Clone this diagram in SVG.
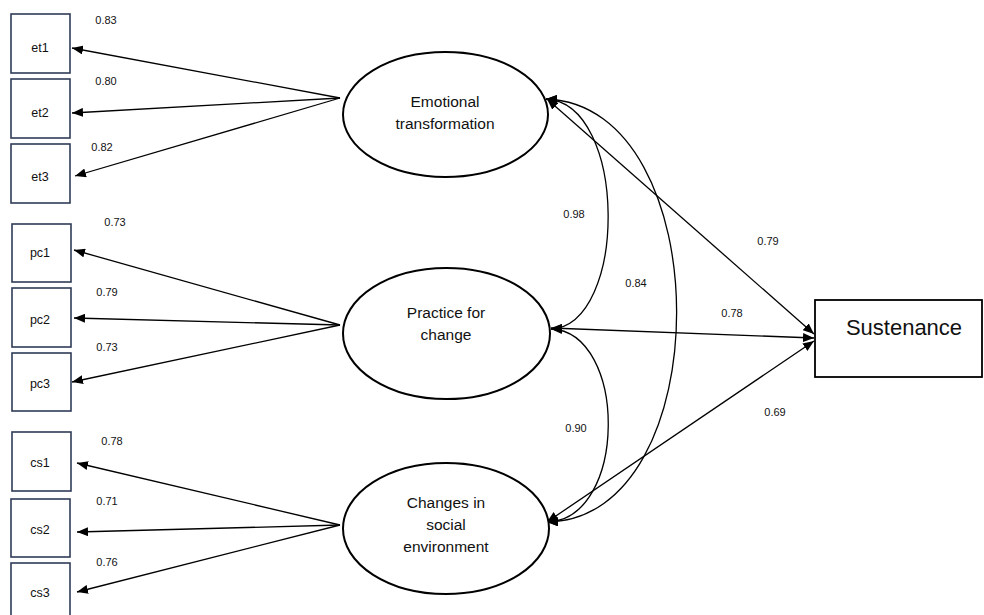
<svg xmlns="http://www.w3.org/2000/svg" width="984" height="615" viewBox="0 0 984 615">
<defs>
<marker id="ah" viewBox="0 0 11 9" refX="11" refY="4.5" markerWidth="11" markerHeight="9" markerUnits="userSpaceOnUse" orient="auto-start-reverse">
<path d="M0,0 L11,4.5 L0,9 z" fill="#000"/>
</marker>
</defs>
<style>
.box{fill:#fff;stroke:#2f3b57;stroke-width:1.6}
.lat{fill:#fff;stroke:#000;stroke-width:2}
.out{fill:#fff;stroke:#000;stroke-width:1.8}
.t{font-family:"Liberation Sans",Arial,sans-serif;fill:#111;text-anchor:middle}
.bl{font-size:12.5px}
.ll{font-size:15.5px}
.nl{font-size:11px}
.big{font-size:22px}
.c{fill:none;stroke:#000;stroke-width:1.3}
.one{marker-end:url(#ah)}
.two{marker-start:url(#ah);marker-end:url(#ah)}
</style>
<rect width="984" height="615" fill="#fff"/>
<g id="connectors">
<line class="c one" x1="340" y1="98" x2="72" y2="48"/>
<line class="c one" x1="340" y1="98" x2="72" y2="113"/>
<line class="c one" x1="340" y1="98" x2="75" y2="176"/>
<line class="c one" x1="340" y1="325" x2="74" y2="250"/>
<line class="c one" x1="340" y1="325" x2="74" y2="318"/>
<line class="c one" x1="340" y1="325" x2="72" y2="382"/>
<line class="c one" x1="340" y1="525" x2="77" y2="463"/>
<line class="c one" x1="340" y1="525" x2="77" y2="532"/>
<line class="c one" x1="340" y1="525" x2="77" y2="592"/>
<line class="c two" x1="547" y1="99" x2="814" y2="334"/>
<line class="c two" x1="551" y1="328" x2="814" y2="338"/>
<line class="c two" x1="547" y1="522" x2="814" y2="341"/>
<path class="c two" d="M546,99 C628,103 628,325 551,329"/>
<path class="c two" d="M546,99 C720,105 720,520 547,522"/>
<path class="c two" d="M551,329 C628,332 628,520 547,522"/>
<g class="t nl">
<text x="106" y="24">0.83</text>
<text x="106" y="85">0.80</text>
<text x="102" y="151">0.82</text>
<text x="115" y="226">0.73</text>
<text x="107" y="296">0.79</text>
<text x="107" y="351">0.73</text>
<text x="112" y="445">0.78</text>
<text x="107" y="505">0.71</text>
<text x="107" y="566">0.76</text>
<text x="574" y="218">0.98</text>
<text x="636" y="287">0.84</text>
<text x="576" y="432">0.90</text>
<text x="768" y="245">0.79</text>
<text x="732" y="317">0.78</text>
<text x="775" y="416">0.69</text>
</g>
</g>
<g id="et1"><rect class="box" x="11" y="14" width="59" height="59"/><text class="t bl" x="40" y="52">et1</text></g>
<g id="et2"><rect class="box" x="11" y="79" width="59" height="59"/><text class="t bl" x="40" y="117">et2</text></g>
<g id="et3"><rect class="box" x="11" y="144" width="59" height="59"/><text class="t bl" x="40" y="181">et3</text></g>
<g id="pc1"><rect class="box" x="12" y="224" width="59" height="58"/><text class="t bl" x="40" y="257">pc1</text></g>
<g id="pc2"><rect class="box" x="12" y="288" width="59" height="59"/><text class="t bl" x="40" y="324">pc2</text></g>
<g id="pc3"><rect class="box" x="12" y="353" width="59" height="58"/><text class="t bl" x="40" y="388">pc3</text></g>
<g id="cs1"><rect class="box" x="12" y="432" width="59" height="59"/><text class="t bl" x="40" y="467">cs1</text></g>
<g id="cs2"><rect class="box" x="11" y="499" width="59" height="58"/><text class="t bl" x="40" y="534">cs2</text></g>
<g id="cs3"><rect class="box" x="11" y="563" width="59" height="60"/><text class="t bl" x="40" y="597">cs3</text></g>
<g id="emotional"><ellipse class="lat" cx="445.5" cy="114.5" rx="102.5" ry="62.5"/><text class="t ll" x="445" y="107">Emotional</text><text class="t ll" x="445" y="129">transformation</text></g>
<g id="practice"><ellipse class="lat" cx="446.5" cy="333.5" rx="103.5" ry="65.5"/><text class="t ll" x="446" y="318">Practice for</text><text class="t ll" x="446" y="340">change</text></g>
<g id="changes"><ellipse class="lat" cx="446" cy="528.5" rx="103" ry="65.5"/><text class="t ll" x="446" y="508">Changes in</text><text class="t ll" x="446" y="530">social</text><text class="t ll" x="446" y="552">environment</text></g>
<g id="sustenance"><rect class="out" x="815" y="300" width="167" height="77"/><text class="t big" x="904" y="335">Sustenance</text></g>
</svg>
